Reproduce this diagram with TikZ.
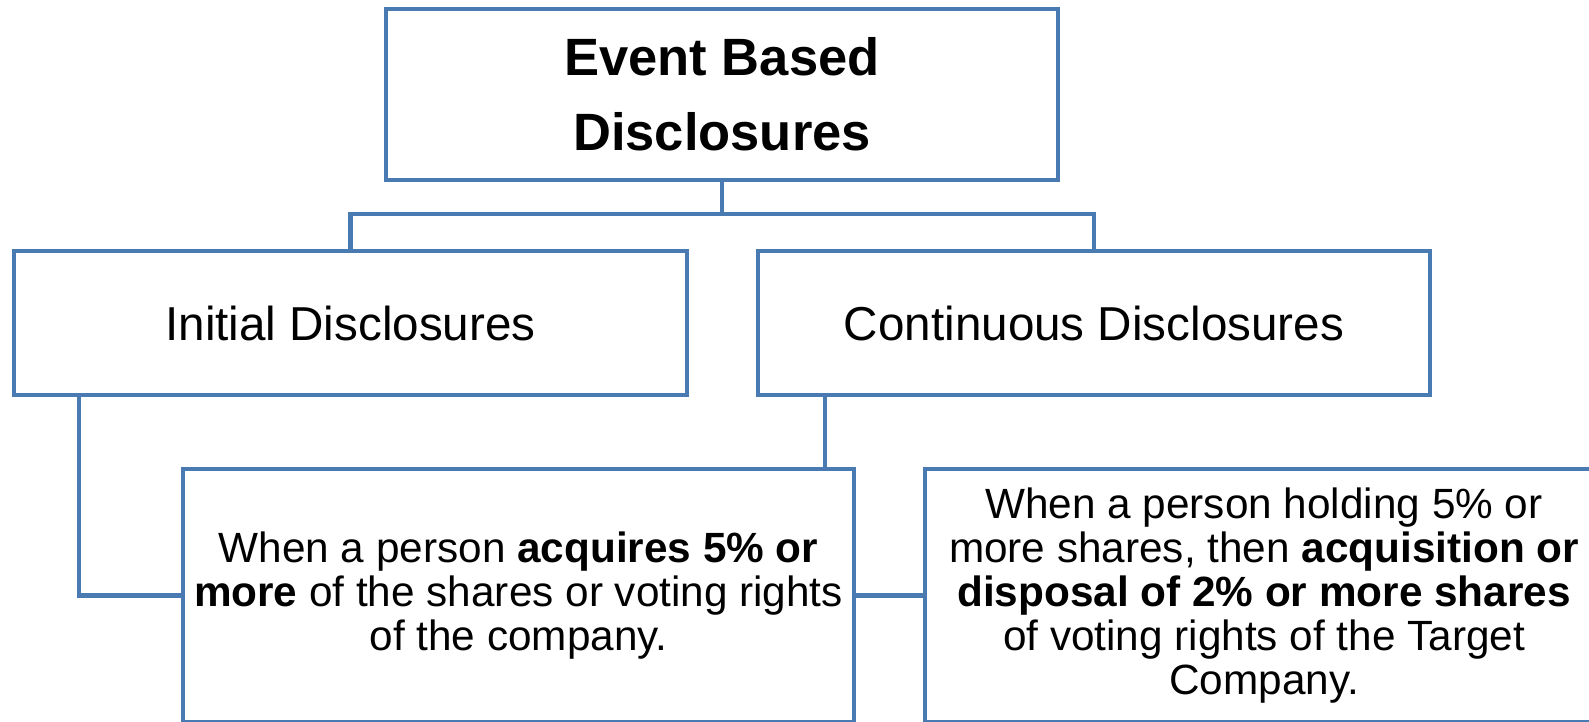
\documentclass[tikz,border=0pt]{standalone}
\usepackage{fontspec}
\setmainfont{Liberation Sans}
\usetikzlibrary{backgrounds}
\definecolor{bline}{RGB}{74,122,178}
\tikzset{
  box/.style={draw=bline, line width=4.2pt, fill=white, rectangle, inner sep=0pt, align=center, text=black},
  conn/.style={draw=bline, line width=4.2pt},
}
\begin{document}
\begin{tikzpicture}[x=1pt, y=-1pt]
\useasboundingbox (0,0) rectangle (1589,721);
\clip (0,0) rectangle (1589,721);
\node[box, minimum width=672pt, minimum height=171pt, font=\fontsize{52.5}{75}\selectfont\bfseries] (top) at (722,94.5) {Event Based\\Disclosures};
\node[box, minimum width=673pt, minimum height=144pt, font=\fontsize{47.6}{54}\selectfont] (init) at (350.5,323) {Initial Disclosures};
\node[box, minimum width=672pt, minimum height=144pt, font=\fontsize{47.6}{54}\selectfont] (cont) at (1094,323) {Continuous Disclosures};
\node[box, minimum width=671pt, minimum height=253pt, font=\fontsize{42.3}{44}\selectfont] (ibox) at (518.5,595.5) {When a person \textbf{acquires 5\% or}\\\textbf{more} of the shares or voting rights\\of the company.};
\node[box, minimum width=678pt, minimum height=253pt, font=\fontsize{42.3}{44}\selectfont] (cbox) at (1264,595.5) {When a person holding 5\% or\\more shares, then \textbf{acquisition or}\\\textbf{disposal of 2\% or more shares}\\of voting rights of the Target\\Company.};
\coordinate (bus) at (722,214);
\begin{scope}[on background layer]
\draw[conn] (top.south) -- (bus);
\draw[conn] (init.north) |- (bus) -| (cont.north);
\draw[conn] (init.south west) ++(67,0) coordinate (ia) |- (ibox.west);
\draw[conn] (init.south -| 825,0) coordinate (ca) |- (cbox.west);
\end{scope}
\end{tikzpicture}
\end{document}
